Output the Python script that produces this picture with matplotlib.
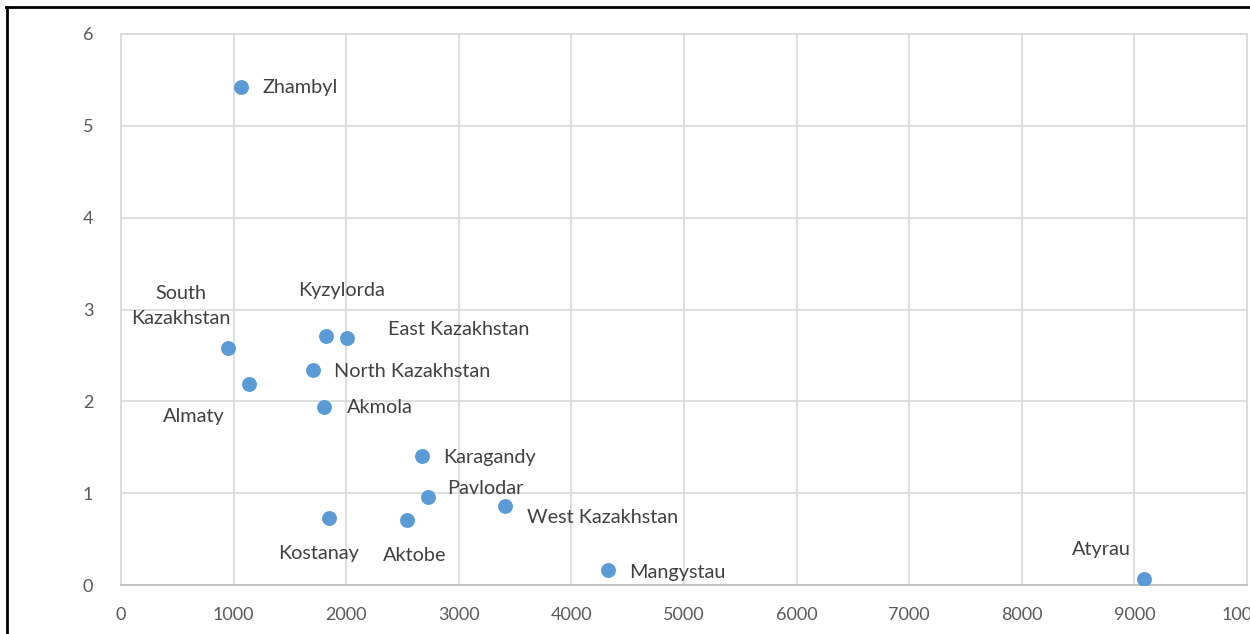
import numpy as np
import matplotlib
matplotlib.use("Agg")
import matplotlib.pyplot as plt
from matplotlib.lines import Line2D

# values
regions = ["Zhambyl", "South\nKazakhstan", "Almaty", "Kyzylorda", "East Kazakhstan",
           "North Kazakhstan", "Akmola", "Karagandy", "Pavlodar", "West Kazakhstan",
           "Kostanay", "Aktobe", "Mangystau", "Atyrau"]
x_vals = [1065, 950, 1136, 1819, 2005, 1704, 1801, 2671, 2724, 3407, 1846, 2538, 4321, 9086]
y_vals = [5.42, 2.58, 2.19, 2.71, 2.69, 2.34, 1.94, 1.41, 0.96, 0.86, 0.73, 0.71, 0.16, 0.065]
x_ticks = [0, 1000, 2000, 3000, 4000, 5000, 6000, 7000, 8000, 9000, 10000]
y_ticks = [0, 1, 2, 3, 4, 5, 6]

# label placement (pixels from the point, alignment)
label_pos = {
    "Zhambyl": (22, 0, "left"),
    "South\nKazakhstan": (-47, 42, "center"),
    "Almaty": (-55, -33, "center"),
    "Kyzylorda": (16, 46, "center"),
    "East Kazakhstan": (41, 8, "left"),
    "North Kazakhstan": (21, -1, "left"),
    "Akmola": (23, -1, "left"),
    "Karagandy": (21, -2, "left"),
    "Pavlodar": (19, 8, "left"),
    "West Kazakhstan": (22, -11, "left"),
    "Kostanay": (-10, -36, "center"),
    "Aktobe": (8, -36, "center"),
    "Mangystau": (22, -2, "left"),
    "Atyrau": (-43, 30, "center"),
}

plt.rcParams['font.family'] = ['Lato', 'DejaVu Sans']

fig = plt.figure(figsize=(12.5, 6.34), dpi=100)
W, H = 1250, 634
ax = fig.add_axes([121 / W, (634 - 585) / H, (1247 - 121) / W, (585 - 34) / H])

ax.scatter(x_vals, y_vals, s=115, color="#5B9BD5", zorder=3, linewidths=0)
for name, xv, yv in zip(regions, x_vals, y_vals):
    dx, dy, ha = label_pos[name]
    ax.annotate(name, (xv, yv), xytext=(dx, dy), textcoords="offset pixels",
                ha=ha, va="center", fontsize=14.3, color="#404040",
                linespacing=1.55, zorder=4)

ax.set_xlim(0, 10000)
ax.set_ylim(0, 6)
ax.set_xticks(x_ticks)
ax.set_yticks(y_ticks)
ax.grid(True, color="#d9d9d9", linewidth=1.2)
ax.set_axisbelow(True)
for s in ax.spines.values():
    s.set_color("#d9d9d9")
    s.set_linewidth(1.2)
ax.spines["bottom"].set_color("#bfbfbf")
ax.tick_params(length=0, labelsize=13, labelcolor="#595959")
ax.tick_params(axis="x", pad=16)
ax.tick_params(axis="y", pad=20)

# page border lines
fig.add_artist(Line2D([6 / W, 1], [1 - 7 / H, 1 - 7 / H], color="black", linewidth=2, transform=fig.transFigure))
fig.add_artist(Line2D([7 / W, 7 / W], [0, 1 - 7 / H], color="black", linewidth=2, transform=fig.transFigure))

fig.savefig("out.png", dpi=100)
